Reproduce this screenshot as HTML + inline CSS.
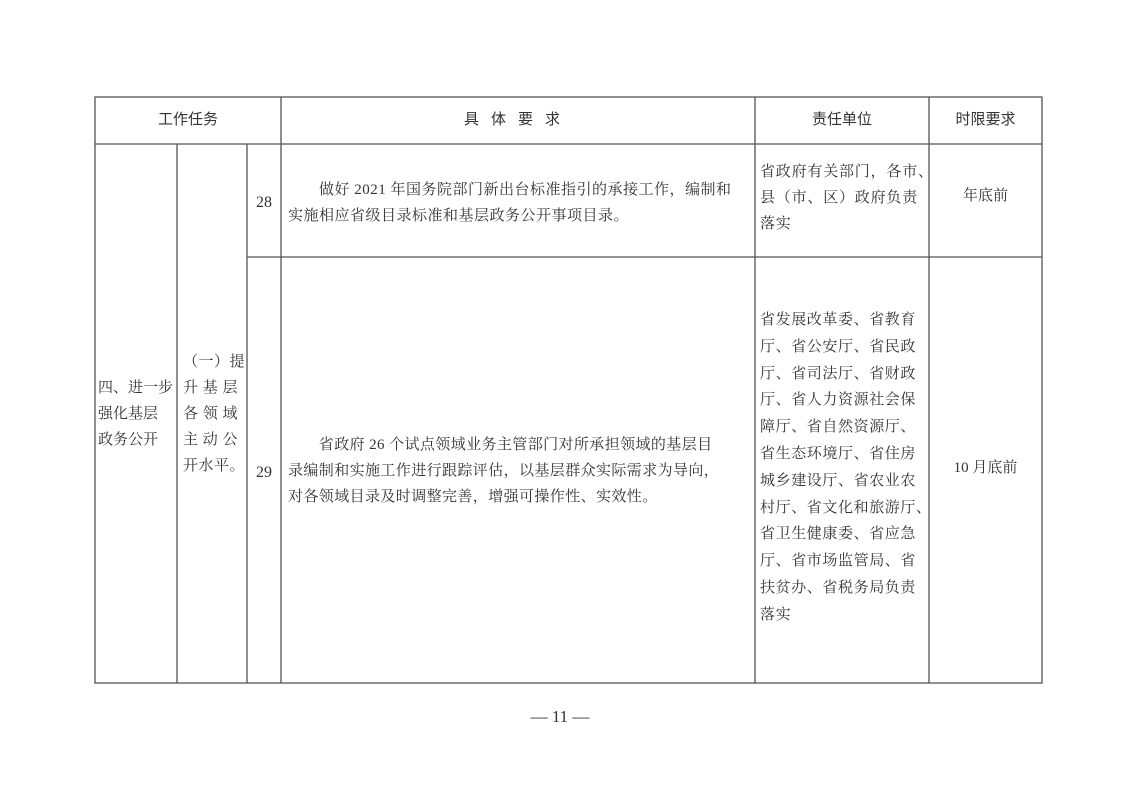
<!DOCTYPE html>
<html><head><meta charset="utf-8"><style>
body{margin:0;width:1122px;height:793px;background:#fff;position:relative;overflow:hidden;font-family:"Liberation Serif","Noto Serif CJK SC",serif;color:#333;}
.t{position:absolute;font-size:15px;white-space:nowrap;line-height:26px}
.h{font-family:"Liberation Sans","Noto Sans CJK SC",sans-serif;font-size:15px}
</style></head><body>
<svg width="1122" height="793" style="position:absolute;left:0;top:0">
<g stroke="#555" stroke-width="1.3" fill="none">
<rect x="95" y="97" width="947" height="586"/>
<line x1="95" y1="144" x2="1042" y2="144"/>
<line x1="177" y1="144" x2="177" y2="683"/>
<line x1="247" y1="144" x2="247" y2="683"/>
<line x1="281" y1="97" x2="281" y2="683"/>
<line x1="755" y1="97" x2="755" y2="683"/>
<line x1="929" y1="97" x2="929" y2="683"/>
<line x1="247" y1="257" x2="1042" y2="257"/>
</g></svg>
<div class="t h" style="left:95px;width:186px;text-align:center;top:107px">工作任务</div>
<div class="t h" style="left:281px;width:474px;text-align:center;top:107px;letter-spacing:12px">具体要求</div>
<div class="t h" style="left:755px;width:174px;text-align:center;top:107px">责任单位</div>
<div class="t h" style="left:929px;width:113px;text-align:center;top:107px">时限要求</div>
<div class="t" style="left:247px;width:34px;text-align:center;top:190px;font-size:16px">28</div>
<div class="t" style="left:288px;top:177px;letter-spacing:0.5px">　　做好 2021 年国务院部门新出台标准指引的承接工作，编制和<br>实施相应省级目录标准和基层政务公开事项目录。</div>
<div class="t" style="left:760px;top:159px;letter-spacing:0.8px">省政府有关部门，各市、<br>县（市、区）政府负责<br>落实</div>
<div class="t" style="left:929px;width:113px;text-align:center;top:183px">年底前</div>
<div class="t" style="left:98px;top:375px;letter-spacing:0px">四、进一步<br>强化基层<br>政务公开</div>
<div class="t" style="left:183px;top:349px;letter-spacing:0.5px">（一）提<br>升 基 层<br>各 领 域<br>主 动 公<br>开水平。</div>
<div class="t" style="left:247px;width:34px;text-align:center;top:460px;font-size:16px">29</div>
<div class="t" style="left:288px;top:432px;letter-spacing:0.4px">　　省政府 26 个试点领域业务主管部门对所承担领域的基层目<br>录编制和实施工作进行跟踪评估，以基层群众实际需求为导向，<br>对各领域目录及时调整完善，增强可操作性、实效性。</div>
<div class="t" style="left:760px;top:307px;line-height:26.8px;letter-spacing:0.6px">省发展改革委、省教育<br>厅、省公安厅、省民政<br>厅、省司法厅、省财政<br>厅、省人力资源社会保<br>障厅、省自然资源厅、<br>省生态环境厅、省住房<br>城乡建设厅、省农业农<br>村厅、省文化和旅游厅、<br>省卫生健康委、省应急<br>厅、省市场监管局、省<br>扶贫办、省税务局负责<br>落实</div>
<div class="t" style="left:929px;width:113px;text-align:center;top:455px">10 月底前</div>
<div class="t" style="left:520px;width:80px;text-align:center;top:704px;font-size:17px">— 11 —</div>
</body></html>
